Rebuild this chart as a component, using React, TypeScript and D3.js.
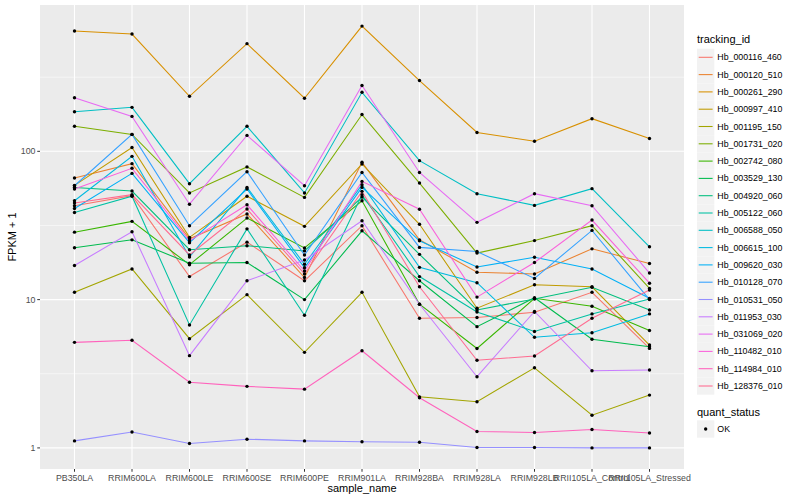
import { useEffect, useRef } from 'react';
import * as d3 from 'd3';

const samples = [
  'PB350LA', 'RRIM600LA', 'RRIM600LE', 'RRIM600SE', 'RRIM600PE', 'RRIM901LA',
  'RRIM928BA', 'RRIM928LA', 'RRIM928LB', 'RRII105LA_Control', 'RRII105LA_Stressed',
];

const trackingIds = [
  'Hb_000116_460', 'Hb_000120_510', 'Hb_000261_290', 'Hb_000997_410', 'Hb_001195_150',
  'Hb_001731_020', 'Hb_002742_080', 'Hb_003529_130', 'Hb_004920_060', 'Hb_005122_060',
  'Hb_006588_050', 'Hb_006615_100', 'Hb_009620_030', 'Hb_010128_070', 'Hb_010531_050',
  'Hb_011953_030', 'Hb_031069_020', 'Hb_110482_010', 'Hb_114984_010', 'Hb_128376_010',
];

// FPKM + 1, one value per sample
const hb000116_460 = [43.0, 50.2, 14.3, 24.4, 13.4, 31.5, 7.49, 7.58, 8.22, 11.2, 4.69];
const hb000120_510 = [66.1, 82.6, 25.7, 37.8, 14.1, 84.3, 25.3, 15.3, 14.9, 22.0, 17.5];
const hb000261_290 = [647, 618, 235, 532, 228, 699, 300, 134, 117, 166, 122];
const hb000997_410 = [58.9, 106, 26.3, 49.8, 31.2, 82.2, 32.2, 8.75, 12.6, 12.2, 4.94];
const hb001195_150 = [11.2, 16.1, 5.45, 10.8, 4.41, 11.2, 2.21, 2.05, 3.47, 1.66, 2.27];
const hb001731_020 = [147.5, 130, 52.4, 78.5, 48.9, 177, 61.1, 20.6, 25.0, 31.5, 11.9];
const hb002742_080 = [28.5, 33.7, 17.2, 35.5, 22.3, 46.4, 9.31, 4.68, 10.2, 9.02, 6.19];
const hb003529_130 = [22.4, 25.3, 17.6, 17.8, 10.0, 29.1, 13.4, 6.57, 10.3, 5.40, 4.81];
const hb004920_060 = [57.1, 54.0, 21.7, 23.1, 21.3, 49.2, 20.2, 8.52, 10.1, 12.1, 8.52];
const hb005122_060 = [38.7, 49.8, 6.75, 30.0, 7.85, 51.0, 14.3, 8.26, 6.10, 8.01, 10.1];
const hb006588_050 = [185, 198, 60.5, 147.5, 52.4, 250, 86.5, 51.8, 43.2, 56.0, 22.7];
const hb006615_100 = [46.4, 92.5, 19.4, 57.1, 17.3, 59.6, 16.5, 13.0, 5.57, 5.98, 8.01];
const hb009620_030 = [41.2, 71.0, 24.2, 55.7, 16.4, 57.1, 24.9, 16.6, 19.3, 16.1, 10.2];
const hb010128_070 = [58.6, 130, 31.5, 72.9, 20.0, 72.0, 22.5, 21.1, 13.9, 29.3, 10.0];
const hb010531_050 = [1.115, 1.28, 1.07, 1.145, 1.115, 1.10, 1.093, 1.006, 1.006, 1.0, 1.0];
const hb011953_030 = [17.0, 28.7, 4.19, 13.4, 18.5, 34.0, 9.31, 3.02, 8.32, 3.31, 3.35];
const hb031069_020 = [230, 172, 44.0, 128, 58.6, 278, 72.0, 33.2, 51.8, 43.0, 15.1];
const hb110482_010 = [55.7, 76.8, 24.9, 43.6, 15.6, 62.7, 40.7, 10.4, 17.8, 34.4, 12.9];
const hb114984_010 = [5.15, 5.32, 2.77, 2.60, 2.49, 4.52, 2.18, 1.29, 1.27, 1.33, 1.26];
const hb128376_010 = [44.8, 51.0, 20.0, 40.8, 14.9, 53.7, 12.2, 3.90, 4.17, 7.49, 11.6];

const seriesValues = [
  hb000116_460, hb000120_510, hb000261_290, hb000997_410, hb001195_150,
  hb001731_020, hb002742_080, hb003529_130, hb004920_060, hb005122_060,
  hb006588_050, hb006615_100, hb009620_030, hb010128_070, hb010531_050,
  hb011953_030, hb031069_020, hb110482_010, hb114984_010, hb128376_010,
];

const yTicks = [1, 10, 100];
const yTickLabels = ['1', '10', '100'];
const quantStatus = ['OK'];

// ggplot2 default hue palette for 20 levels
const palette = [
  '#F8766D', '#EA8331', '#D89000', '#C09B00', '#A3A500', '#7CAE00', '#39B600',
  '#00BB4E', '#00BF7D', '#00C1A3', '#00BFC4', '#00BAE0', '#00B0F6', '#35A2FF',
  '#9590FF', '#C77CFF', '#E76BF3', '#FA62DB', '#FF62BC', '#FF6C91',
];

const W = 800;
const H = 500;
const FONT = '"Liberation Sans", Arial, Helvetica, sans-serif';

export default function App() {
  const ref = useRef<SVGSVGElement>(null);

  useEffect(() => {
    if (!ref.current) return;
    const svg = d3.select(ref.current);
    svg.selectAll('*').remove();

    const panel = { left: 40, right: 684, top: 5, bottom: 469 };

    const x = d3.scalePoint<string>().domain(samples).range([panel.left, panel.right]).padding(0.6);

    const all = seriesValues.flat();
    const lo = Math.log10(d3.min(all) as number);
    const hi = Math.log10(d3.max(all) as number);
    const pad = (hi - lo) * 0.05;
    const y = d3
      .scaleLog()
      .domain([Math.pow(10, lo - pad), Math.pow(10, hi + pad)])
      .range([panel.bottom, panel.top]);

    svg.append('rect').attr('width', W).attr('height', H).attr('fill', '#fff');
    svg
      .append('rect')
      .attr('x', panel.left)
      .attr('y', panel.top)
      .attr('width', panel.right - panel.left)
      .attr('height', panel.bottom - panel.top)
      .attr('fill', '#EBEBEB');

    const grid = svg.append('g');
    // minor breaks halfway between decades
    [Math.pow(10, 0.5), Math.pow(10, 1.5), Math.pow(10, 2.5)].forEach((v) => {
      grid
        .append('line')
        .attr('x1', panel.left)
        .attr('x2', panel.right)
        .attr('y1', y(v))
        .attr('y2', y(v))
        .attr('stroke', '#fff')
        .attr('stroke-width', 0.55);
    });
    yTicks.forEach((v) => {
      grid
        .append('line')
        .attr('x1', panel.left)
        .attr('x2', panel.right)
        .attr('y1', y(v))
        .attr('y2', y(v))
        .attr('stroke', '#fff')
        .attr('stroke-width', 1.1);
    });
    samples.forEach((s) => {
      grid
        .append('line')
        .attr('x1', x(s)!)
        .attr('x2', x(s)!)
        .attr('y1', panel.top)
        .attr('y2', panel.bottom)
        .attr('stroke', '#fff')
        .attr('stroke-width', 1.1);
    });

    const line = d3
      .line<number>()
      .x((_, i) => x(samples[i])!)
      .y((d) => y(d));

    const lines = svg.append('g');
    seriesValues.forEach((vals, k) => {
      lines
        .append('path')
        .attr('d', line(vals))
        .attr('fill', 'none')
        .attr('stroke', palette[k])
        .attr('stroke-width', 1.07);
    });

    const pts = svg.append('g');
    seriesValues.forEach((vals) => {
      pts
        .selectAll(null)
        .data(vals)
        .enter()
        .append('circle')
        .attr('cx', (_, i) => x(samples[i])!)
        .attr('cy', (d) => y(d))
        .attr('r', 1.7)
        .attr('fill', '#000');
    });

    // axes
    const axes = svg.append('g').attr('font-family', FONT);
    yTicks.forEach((v, i) => {
      axes
        .append('line')
        .attr('x1', panel.left - 2.75)
        .attr('x2', panel.left)
        .attr('y1', y(v))
        .attr('y2', y(v))
        .attr('stroke', '#333');
      axes
        .append('text')
        .attr('x', panel.left - 4.5)
        .attr('y', y(v))
        .attr('dy', '0.35em')
        .attr('text-anchor', 'end')
        .attr('font-size', 8.8)
        .attr('fill', '#4D4D4D')
        .text(yTickLabels[i]);
    });
    samples.forEach((s) => {
      axes
        .append('line')
        .attr('x1', x(s)!)
        .attr('x2', x(s)!)
        .attr('y1', panel.bottom)
        .attr('y2', panel.bottom + 2.75)
        .attr('stroke', '#333');
      axes
        .append('text')
        .attr('x', x(s)!)
        .attr('y', panel.bottom + 12)
        .attr('text-anchor', 'middle')
        .attr('font-size', 8.8)
        .attr('fill', '#4D4D4D')
        .text(s);
    });
    axes
      .append('text')
      .attr('x', (panel.left + panel.right) / 2)
      .attr('y', 492)
      .attr('text-anchor', 'middle')
      .attr('font-size', 11)
      .attr('fill', '#000')
      .text('sample_name');
    axes
      .append('text')
      .attr('transform', `translate(16,${(panel.top + panel.bottom) / 2}) rotate(-90)`)
      .attr('text-anchor', 'middle')
      .attr('font-size', 11)
      .attr('fill', '#000')
      .text('FPKM + 1');

    // legends
    const leg = svg.append('g').attr('font-family', FONT);
    const keyX = 697;
    const keySize = 17.3;
    const firstKey = 57.3;
    leg.append('text').attr('x', keyX).attr('y', 42.5).attr('font-size', 11).text('tracking_id');
    trackingIds.forEach((id, k) => {
      const cy = firstKey + k * keySize;
      leg
        .append('rect')
        .attr('x', keyX)
        .attr('y', cy - keySize / 2)
        .attr('width', keySize)
        .attr('height', keySize)
        .attr('fill', '#F2F2F2');
      leg
        .append('line')
        .attr('x1', keyX + 1.7)
        .attr('x2', keyX + keySize - 1.7)
        .attr('y1', cy)
        .attr('y2', cy)
        .attr('stroke', palette[k])
        .attr('stroke-width', 1.07);
      leg
        .append('text')
        .attr('x', keyX + keySize + 3)
        .attr('y', cy)
        .attr('dy', '0.35em')
        .attr('font-size', 8.8)
        .text(id);
    });

    leg.append('text').attr('x', keyX).attr('y', 416).attr('font-size', 11).text('quant_status');
    quantStatus.forEach((q, k) => {
      const cy = 429 + k * keySize;
      leg
        .append('rect')
        .attr('x', keyX)
        .attr('y', cy - keySize / 2)
        .attr('width', keySize)
        .attr('height', keySize)
        .attr('fill', '#F2F2F2');
      leg
        .append('circle')
        .attr('cx', keyX + keySize / 2)
        .attr('cy', cy)
        .attr('r', 1.7)
        .attr('fill', '#000');
      leg
        .append('text')
        .attr('x', keyX + keySize + 3)
        .attr('y', cy)
        .attr('dy', '0.35em')
        .attr('font-size', 8.8)
        .text(q);
    });
  }, []);

  return (
    <svg
      ref={ref}
      width={W}
      height={H}
      style={{ position: 'fixed', left: 0, top: 0, display: 'block' }}
      role="img"
      aria-label="FPKM + 1 by sample_name, one line per tracking_id"
    />
  );
}
